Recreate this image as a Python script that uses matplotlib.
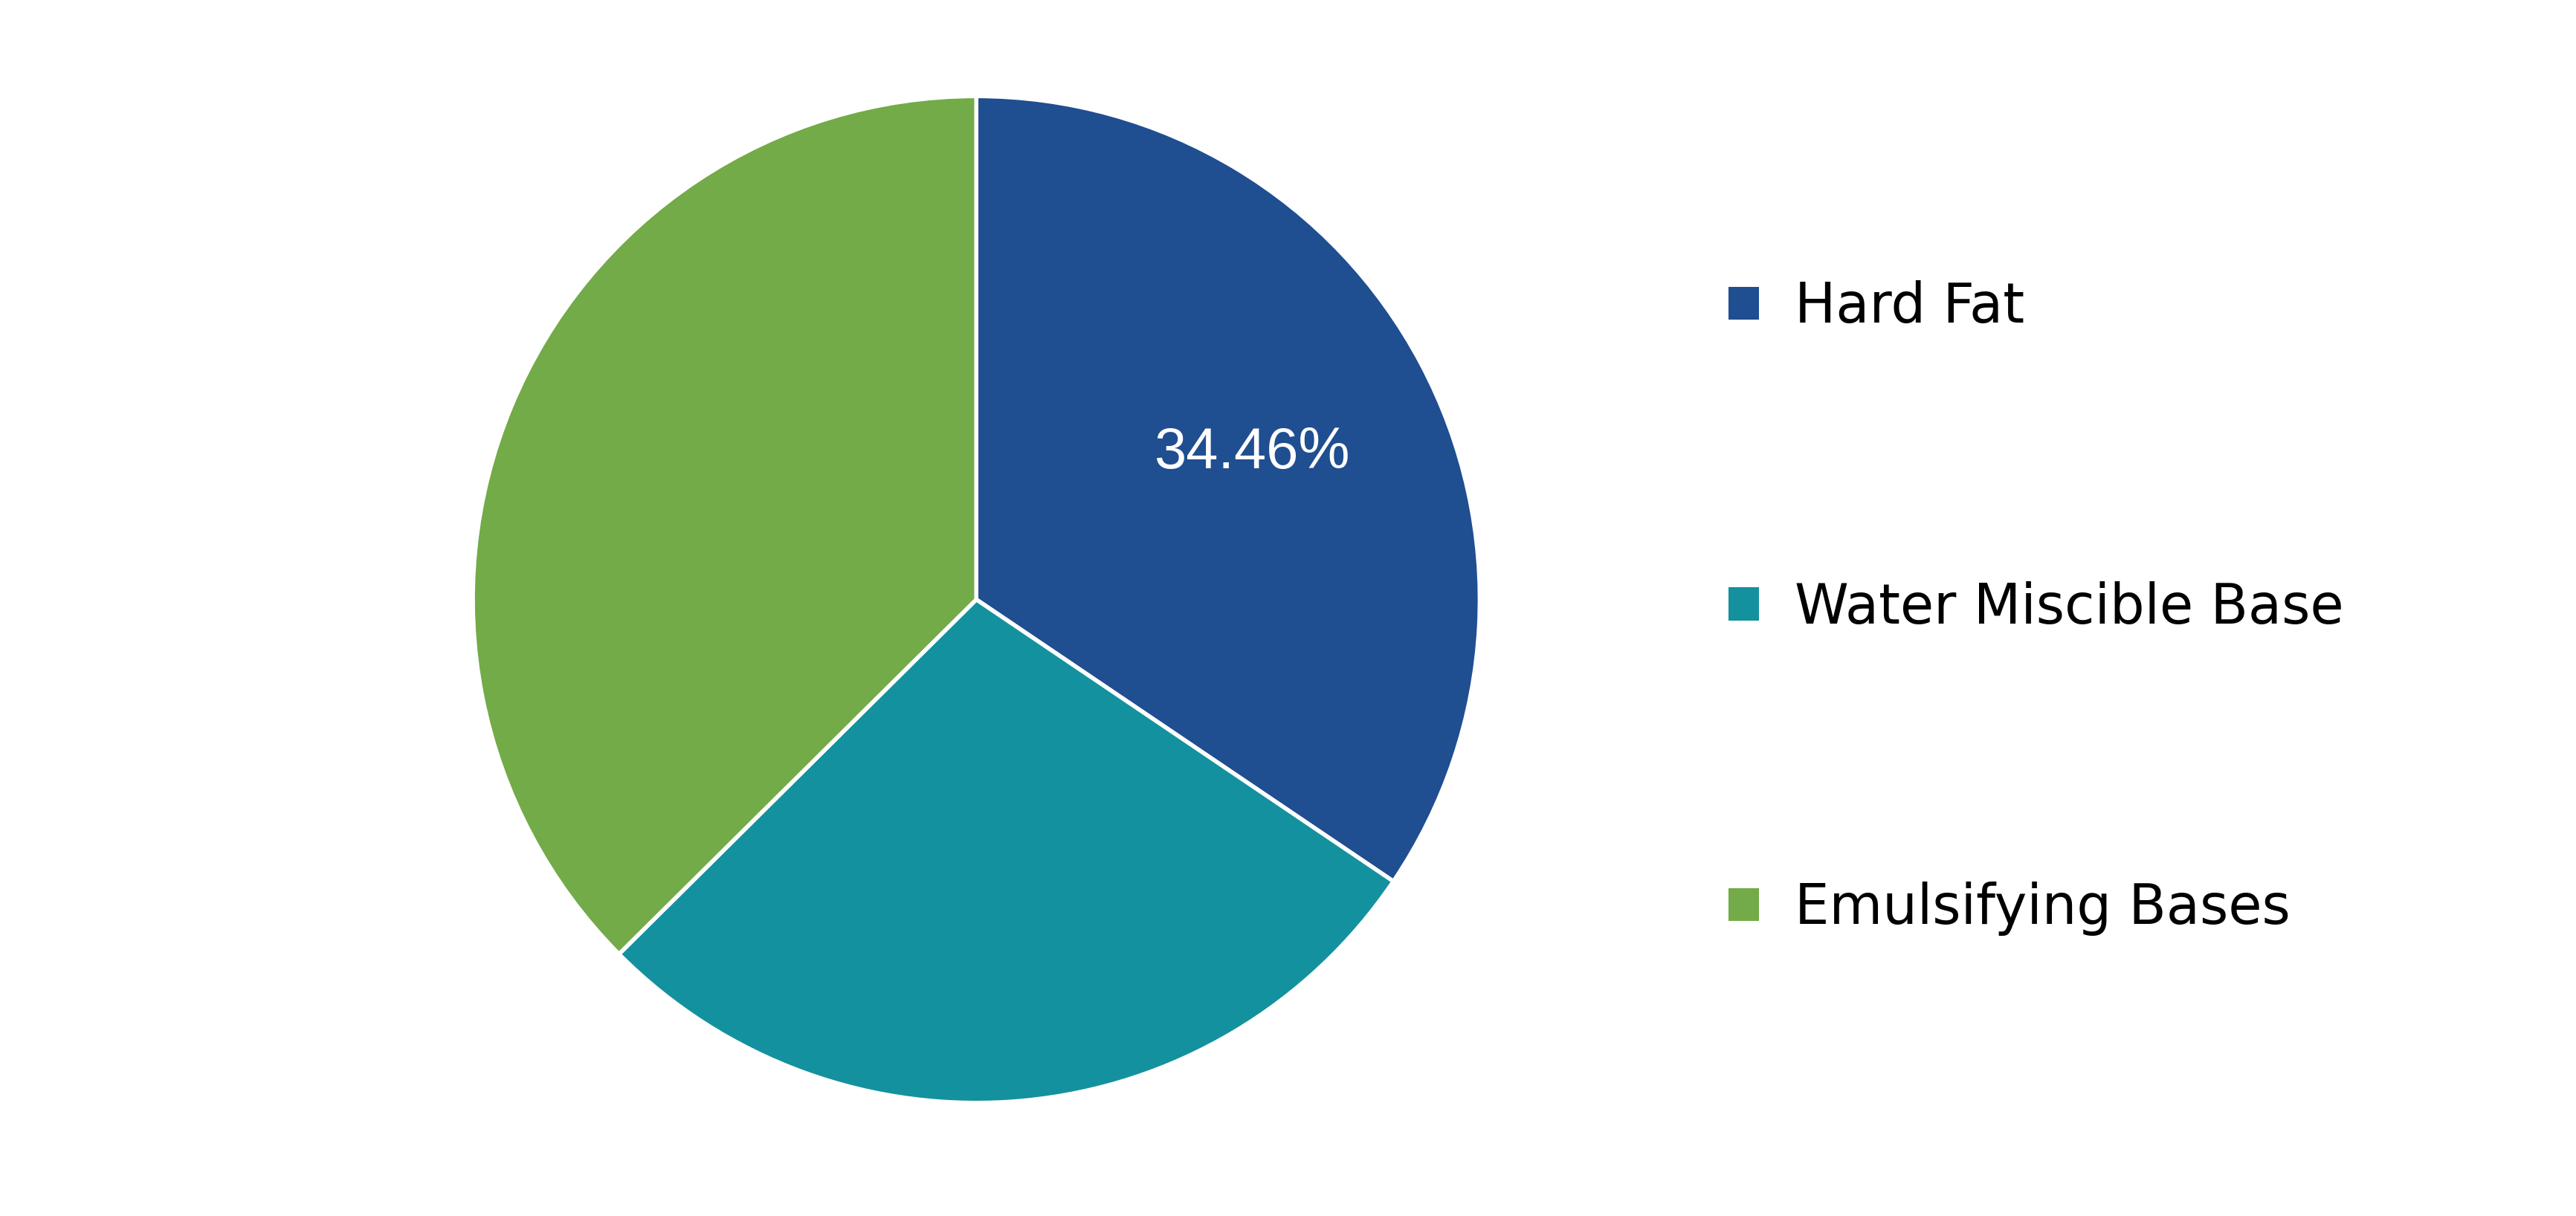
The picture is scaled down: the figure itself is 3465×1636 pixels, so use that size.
import matplotlib
matplotlib.use("Agg")
import matplotlib.pyplot as plt
from matplotlib.patches import Patch

categories = ["Hard Fat", "Water Miscible Base", "Emulsifying Bases"]
values = [34.46, 28.10, 37.44]
colors = ["#1f4e91", "#13919e", "#72ab47"]

fig = plt.figure(figsize=(34.65, 16.36), dpi=100)
ax = fig.add_axes([0.1825, 0.091, 0.393, 0.832])

def fmt(p):
    return f"{p:.2f}%" if abs(p - values[0]) < 0.01 else ""

wedges, texts, autotexts = ax.pie(values, colors=colors, startangle=90, counterclock=False,
       autopct=fmt, pctdistance=0.62,
       wedgeprops=dict(edgecolor="white", linewidth=4),
       textprops=dict(color="white", fontsize=56, family="Liberation Sans"))
ax.set_xlim(-1.005, 1.005)
ax.set_ylim(-1.005, 1.005)
ax.set_aspect("equal")

handles = [Patch(facecolor=c, edgecolor="none") for c in colors]
fig.legend(handles, categories, loc="center left", bbox_to_anchor=(0.652, 0.5),
           frameon=False, labelspacing=4.5, handlelength=0.55,
           handleheight=0.55, handletextpad=0.65, prop=dict(family="DejaVu Sans", size=53))
fig.savefig("out.png", dpi=100)
